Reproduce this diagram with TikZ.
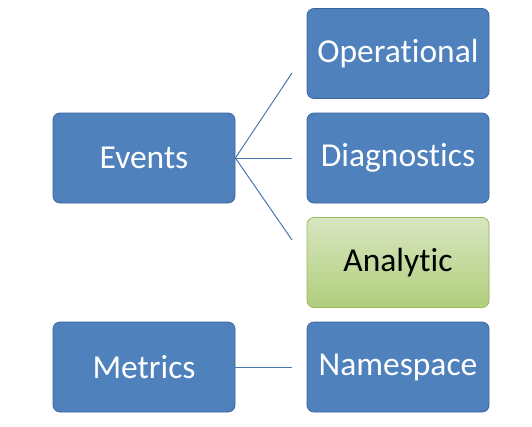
\documentclass[tikz,border=0pt]{standalone}
\usepackage{fontspec}
\setmainfont{Carlito}[Ligatures=NoCommon]
\usetikzlibrary{positioning}
\definecolor{boxblue}{HTML}{4F81BD}
\definecolor{edgeblue}{HTML}{3A64A0}
\definecolor{linkblue}{HTML}{4A76AE}
\definecolor{greentop}{HTML}{D8E6C0}
\definecolor{greenbot}{HTML}{B0CE7C}
\definecolor{greenedge}{HTML}{9BBB59}
\tikzset{
    box/.style={draw=edgeblue,fill=boxblue,rounded corners=7pt,line width=0.8pt,
        minimum width=182pt,minimum height=90pt,inner sep=0pt,text=white,
        font=\fontsize{33.5}{36}\selectfont},
    greenbox/.style={box,draw=greenedge,top color=greentop,bottom color=greenbot,text=black},
    link/.style={draw=linkblue,line width=1pt}
}
\begin{document}
\begin{tikzpicture}[x=1pt,y=-1pt]
    \useasboundingbox (0,0) rectangle (532,426);
    \node[box] (ev) at (144,158) {Events};
    \node[box] (op) at (398,53.5) {Operational};
    \node[box] (dg) at (398,158) {Diagnostics};
    \node[greenbox] (an) at (398,262.5) {Analytic};
    \node[box] (me) at (144,367) {Metrics};
    \node[box] (ns) at (398,367) {Namespace};
    \coordinate (op-in) at (292,73);
    \coordinate (dg-in) at (292,158);
    \coordinate (an-in) at (292,240);
    \coordinate (ns-in) at (292,367);
    \draw[link] (op-in) -- (ev.east) -- (an-in);
    \draw[link] (ev.east) -- (dg-in);
    \draw[link] (me.east) -- (ns-in);
\end{tikzpicture}
\end{document}
